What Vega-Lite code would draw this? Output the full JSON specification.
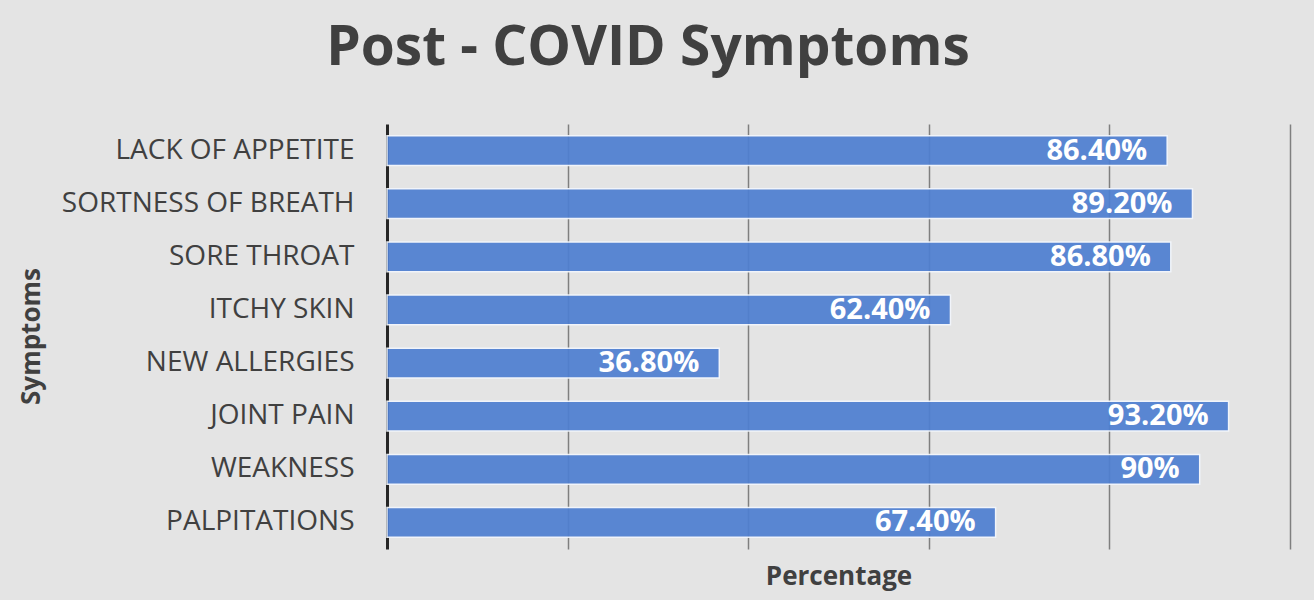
{
  "$schema": "https://vega.github.io/schema/vega-lite/v6.json",
  "autosize": {"type": "none"},
  "width": 903,
  "height": 425,
  "padding": {"left": 387, "top": 124, "right": 24, "bottom": 51},
  "background": "#e4e4e4",
  "title": {
    "text": "Post - COVID Symptoms",
    "anchor": "middle",
    "frame": "bounds",
    "font": "Open Sans",
    "fontSize": 55,
    "fontWeight": "bold",
    "color": "#404040",
    "offset": 47,
    "dx": -6
  },
  "data": {
    "values": [
      {"symptom": "LACK OF APPETITE", "pct": 86.4, "label": "86.40%"},
      {"symptom": "SORTNESS OF BREATH", "pct": 89.2, "label": "89.20%"},
      {"symptom": "SORE THROAT", "pct": 86.8, "label": "86.80%"},
      {"symptom": "ITCHY SKIN", "pct": 62.4, "label": "62.40%"},
      {"symptom": "NEW ALLERGIES", "pct": 36.8, "label": "36.80%"},
      {"symptom": "JOINT PAIN", "pct": 93.2, "label": "93.20%"},
      {"symptom": "WEAKNESS", "pct": 90, "label": "90%"},
      {"symptom": "PALPITATIONS", "pct": 67.4, "label": "67.40%"}
    ]
  },
  "encoding": {
    "y": {
      "field": "symptom",
      "type": "nominal",
      "sort": null,
      "scale": {"paddingInner": 0.44, "paddingOuter": 0.22},
      "axis": {
        "title": "Symptoms",
        "titleFont": "Open Sans",
        "titleFontSize": 26,
        "titleFontWeight": "bold",
        "titleColor": "#404040",
        "titleAngle": -90,
        "titleX": -356,
        "titleY": 212,
        "titleAlign": "center",
        "titleBaseline": "middle",
        "labelFont": "Open Sans",
        "labelFontSize": 28,
        "labelColor": "#404040",
        "labelPadding": 33,
        "labelLimit": 0,
        "ticks": false,
        "grid": false,
        "domainColor": "#262626",
        "domainWidth": 3
      }
    },
    "x": {
      "field": "pct",
      "type": "quantitative",
      "scale": {"domain": [0, 100], "nice": false},
      "axis": {
        "title": "Percentage",
        "titleFont": "Open Sans",
        "titleFontSize": 26,
        "titleFontWeight": "bold",
        "titleColor": "#404040",
        "titleBaseline": "alphabetic",
        "titlePadding": 35,
        "labels": false,
        "ticks": false,
        "domain": false,
        "values": [20, 40, 60, 80, 100],
        "grid": true,
        "gridColor": "#7f7f7f",
        "gridWidth": 1.5
      }
    }
  },
  "layer": [
    {
      "mark": {"type": "bar", "color": "#4f7fd1", "stroke": "#f2f6fc", "strokeWidth": 1.5, "opacity": 0.93}
    },
    {
      "mark": {"type": "text", "align": "right", "baseline": "middle", "dx": -20, "color": "white", "font": "Open Sans", "fontSize": 29, "fontWeight": "bold"},
      "encoding": {"text": {"field": "label"}}
    }
  ],
  "config": {"view": {"stroke": null}}
}
